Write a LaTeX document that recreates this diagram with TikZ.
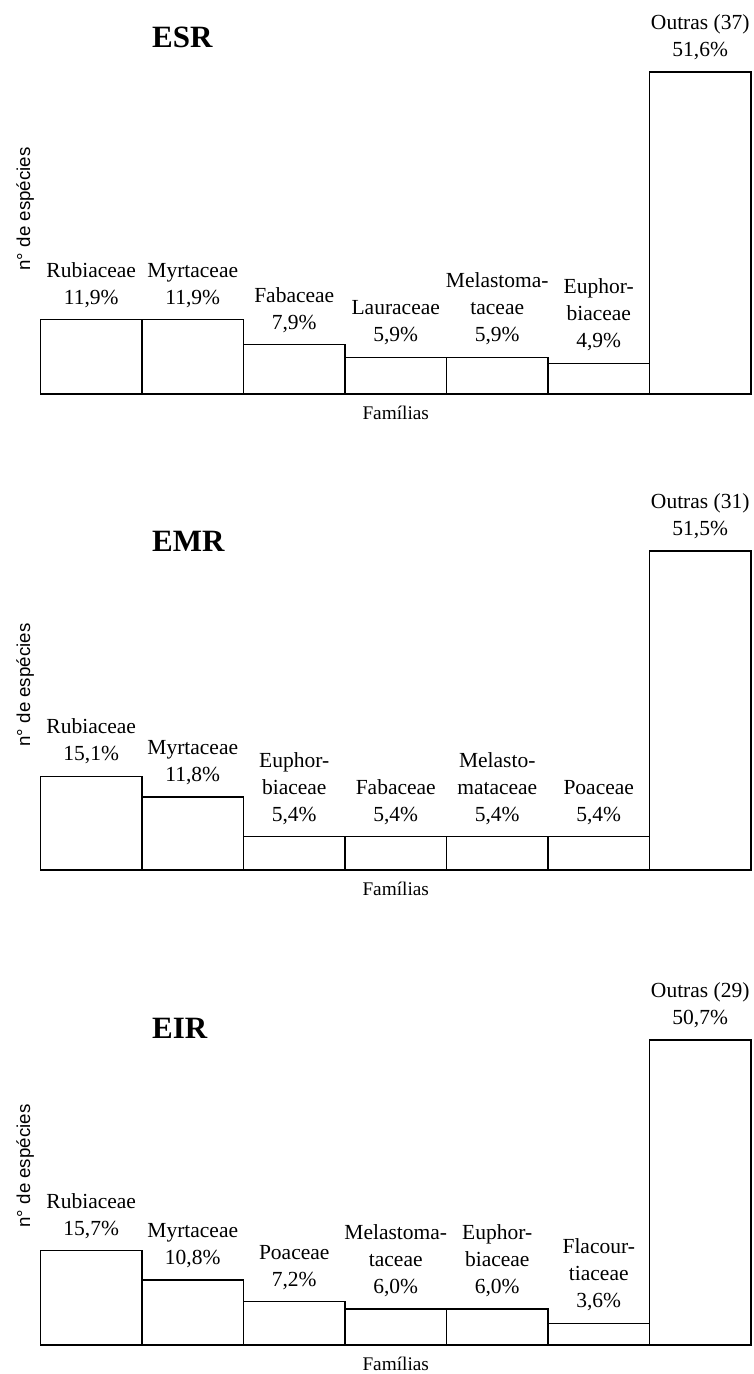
\documentclass[tikz,border=0pt]{standalone}
\usepackage{fontspec}
\setmainfont{Liberation Serif}
\newfontfamily\axsans{Liberation Sans}
\newcommand\fambar[6]{% name, index, base, scale, value, label
  \pgfmathsetmacro\xl{40.5+101.5*#2}
  \pgfmathsetmacro\xr{\xl+101.5}
  \pgfmathsetmacro\xc{\xl+50.75}
  \pgfmathsetmacro\yt{#3-#4*#5}
  \draw[barbox] (\xl,#3) rectangle (\xr,\yt);
  \node[barlabel] (#1) at (\xc,\yt-12) {#6};
}
\begin{document}
\begin{tikzpicture}[x=1pt,y=-1pt,
  barbox/.style={draw=black,line width=1.2pt,fill=white},
  barlabel/.style={align=center,anchor=south,inner sep=0pt,font=\fontsize{21.5}{27}\selectfont},
  axlabel/.style={anchor=base,inner sep=0pt,font=\fontsize{19.3}{23}\selectfont},
  ylabel/.style={rotate=90,anchor=base,inner sep=0pt,font=\axsans\fontsize{18.7}{22}\selectfont},
  charttitle/.style={anchor=base west,inner sep=0pt,font=\bfseries\fontsize{31}{36}\selectfont}]
\useasboundingbox (0,0) rectangle (753,1374);

% ---------------- ESR ----------------
\fambar{a1}{0}{394}{6.240}{11.9}{Rubiaceae\\11,9\%}
\fambar{a2}{1}{394}{6.240}{11.9}{Myrtaceae\\11,9\%}
\fambar{a3}{2}{394}{6.240}{7.9}{Fabaceae\\7,9\%}
\fambar{a4}{3}{394}{6.240}{5.9}{Lauraceae\\5,9\%}
\fambar{a5}{4}{394}{6.240}{5.9}{Melastoma-\\taceae\\5,9\%}
\fambar{a6}{5}{394}{6.240}{4.9}{Euphor-\\biaceae\\4,9\%}
\fambar{a7}{6}{394}{6.240}{51.6}{Outras (37)\\51,6\%}
\node[charttitle] (tESR) at (152,47) {ESR};
\node[ylabel] (yESR) at (30,209) {n° de espécies};
\node[axlabel] (fESR) at (395.75,419) {Famílias};

% ---------------- EMR ----------------
\fambar{b1}{0}{870}{6.194}{15.1}{Rubiaceae\\15,1\%}
\fambar{b2}{1}{870}{6.194}{11.8}{Myrtaceae\\11,8\%}
\fambar{b3}{2}{870}{6.194}{5.4}{Euphor-\\biaceae\\5,4\%}
\fambar{b4}{3}{870}{6.194}{5.4}{Fabaceae\\5,4\%}
\fambar{b5}{4}{870}{6.194}{5.4}{Melasto-\\mataceae\\5,4\%}
\fambar{b6}{5}{870}{6.194}{5.4}{Poaceae\\5,4\%}
\fambar{b7}{6}{870}{6.194}{51.5}{Outras (31)\\51,5\%}
\node[charttitle] (tEMR) at (152,551) {EMR};
\node[ylabel] (yEMR) at (30,685) {n° de espécies};
\node[axlabel] (fEMR) at (395.75,895) {Famílias};

% ---------------- EIR ----------------
\fambar{c1}{0}{1345}{6.016}{15.7}{Rubiaceae\\15,7\%}
\fambar{c2}{1}{1345}{6.016}{10.8}{Myrtaceae\\10,8\%}
\fambar{c3}{2}{1345}{6.016}{7.2}{Poaceae\\7,2\%}
\fambar{c4}{3}{1345}{6.016}{6.0}{Melastoma-\\taceae\\6,0\%}
\fambar{c5}{4}{1345}{6.016}{6.0}{Euphor-\\biaceae\\6,0\%}
\fambar{c6}{5}{1345}{6.016}{3.6}{Flacour-\\tiaceae\\3,6\%}
\fambar{c7}{6}{1345}{6.016}{50.7}{Outras (29)\\50,7\%}
\node[charttitle] (tEIR) at (152,1038) {EIR};
\node[ylabel] (yEIR) at (30,1166) {n° de espécies};
\node[axlabel] (fEIR) at (395.75,1370) {Famílias};
\end{tikzpicture}
\end{document}
